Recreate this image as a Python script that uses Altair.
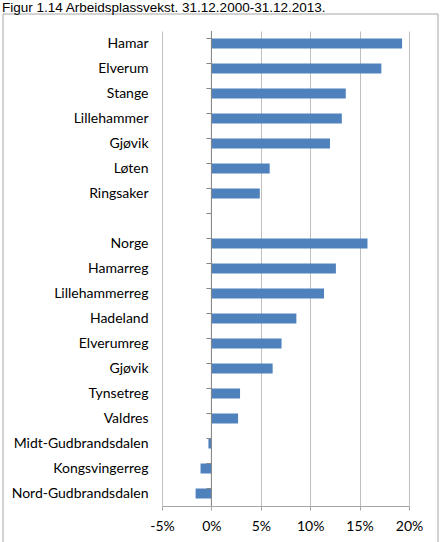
import altair as alt
import pandas as pd

labels = ["Hamar", "Elverum", "Stange", "Lillehammer", "Gjøvik", "Løten", "Ringsaker", "",
          "Norge", "Hamarreg", "Lillehammerreg", "Hadeland", "Elverumreg", "Gjøvik",
          "Tynsetreg", "Valdres", "Midt-Gudbrandsdalen", "Kongsvingerreg", "Nord-Gudbrandsdalen"]
values = [19.3, 17.2, 13.6, 13.2, 12.0, 5.9, 4.9, None,
          15.8, 12.6, 11.4, 8.6, 7.1, 6.2,
          2.9, 2.7, -0.3, -1.1, -1.6]
x_ticks = [-5, 0, 5, 10, 15, 20]
title_text = "Figur 1.14 Arbeidsplassvekst. 31.12.2000-31.12.2013."

idx = list(range(len(labels)))
df = pd.DataFrame({"idx": idx, "label": labels, "value": values})

label_array = "[" + ",".join("'" + s + "'" for s in labels) + "]"
yscale = alt.Scale(domain=idx, paddingInner=0.6, paddingOuter=0.3)
xscale = alt.Scale(domain=[-5, 20], nice=False, zero=False)

FONT = "Lato"

bars = alt.Chart(df).mark_bar(color="#4F81BD").encode(
    x=alt.X("value:Q", scale=xscale,
            axis=alt.Axis(values=x_ticks, labelExpr="datum.value + '%'", title=None,
                          grid=True, gridColor="#bfbfbf", gridWidth=1,
                          domainColor="#a6a6a6", tickColor="#a6a6a6", tickSize=4,
                          labelFont=FONT, labelFontSize=14, labelColor="#000000",
                          labelPadding=9, labelFlush=False)),
    y=alt.Y("idx:O", scale=yscale,
            axis=alt.Axis(labelExpr=label_array + "[datum.value]", title=None,
                          ticks=False, tickSize=0, domain=False, grid=False,
                          labelFont=FONT, labelFontSize=14, labelColor="#000000",
                          labelPadding=14)),
)

zero_line = alt.Chart(pd.DataFrame({"z": [0]})).mark_rule(color="#868686", strokeWidth=1).encode(
    x=alt.X("z:Q", scale=xscale)
)

yticks = alt.Chart(df).mark_rule(color="#868686", strokeWidth=1).encode(
    y=alt.Y("idx:O", scale=yscale, bandPosition=0),
    x=alt.datum(0),
    x2=alt.datum(-0.5),
)

frame = alt.Chart(pd.DataFrame({"f": [0]})).mark_rect(
    fill=None, stroke="#a6a6a6", strokeWidth=1
).encode(
    x=alt.value(-159), x2=alt.value(276), y=alt.value(-17), y2=alt.value(530)
)

chart = alt.layer(bars, zero_line, yticks, frame).properties(
    width=247,
    height=475,
    padding={"left": 162, "top": 31, "right": 33, "bottom": 36},
    autosize=alt.AutoSizeParams(type="none"),
    title=alt.TitleParams(title_text, anchor="start", frame="group", font="Liberation Sans",
                          fontSize=13.5, fontWeight="normal", color="#000000", dx=-160, dy=31,
                          baseline="alphabetic", offset=19),
).configure_view(strokeWidth=0)

chart.save("out.html", embed_options={"renderer": "svg", "actions": False})
